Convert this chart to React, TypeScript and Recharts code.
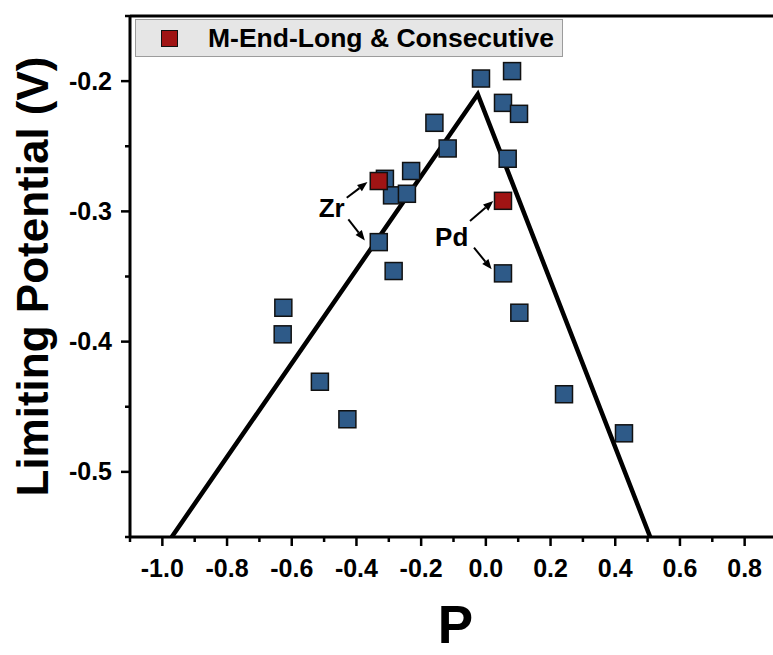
import React from 'react';
import {
  ScatterChart, Scatter, XAxis, YAxis, ReferenceLine, ReferenceDot, Legend
} from 'recharts';

// P values / limiting potentials
const blueP = [
  -0.015, 0.081, 0.053, 0.1025, -0.159, -0.118, 0.0675, -0.231, -0.312, -0.29, -0.244,
  -0.331, -0.285, 0.053, 0.1035, -0.626, -0.628, -0.513, -0.428, 0.2416, 0.427
];
const blueU = [
  -0.198, -0.1923, -0.2167, -0.2251, -0.232, -0.2517, -0.2596, -0.269, -0.275, -0.2877, -0.2865,
  -0.3236, -0.3458, -0.3476, -0.3778, -0.374, -0.3944, -0.4308, -0.4596, -0.4404, -0.4704
];
const redP = [-0.331, 0.053];
const redU = [-0.2767, -0.2919];

// volcano line
const lineP = [-0.971, -0.025, 0.508];
const lineU = [-0.55, -0.21, -0.55];

const xTicks = [-1.1, -1.0, -0.9, -0.8, -0.7, -0.6, -0.5, -0.4, -0.3, -0.2, -0.1, 0.0, 0.1, 0.2, 0.3, 0.4, 0.5, 0.6, 0.7, 0.8, 0.9];
const xMajor = [-1.0, -0.8, -0.6, -0.4, -0.2, 0.0, 0.2, 0.4, 0.6, 0.8];
const yTicks = [-0.55, -0.5, -0.45, -0.4, -0.35, -0.3, -0.25, -0.2, -0.15];
const yMajor = [-0.5, -0.4, -0.3, -0.2];

const blueData = blueP.map((x, i) => ({ x, y: blueU[i] }));
const redData = redP.map((x, i) => ({ x, y: redU[i] }));
const lineData = lineP.map((x, i) => ({ x, y: lineU[i] }));

const FONT = '"Liberation Sans", Arial, sans-serif';

const square = (color: string) => (props: any) => {
  const { cx, cy } = props;
  return <rect x={cx - 8.5} y={cy - 8.5} width={17} height={17} fill={color} stroke="#111" strokeWidth={1.5} />;
};

const isIn = (list: number[], v: number) => list.some((m) => Math.abs(m - v) < 1e-6);

const XTick = (props: any) => {
  const { x, y, payload } = props;
  const major = isIn(xMajor, payload.value);
  return (
    <g>
      <line x1={x} y1={y} x2={x} y2={y + (major ? 9 : 5)} stroke="#000" strokeWidth={2.5} />
      {major && (
        <text x={x} y={y + 40} textAnchor="middle" fontFamily={FONT} fontWeight="bold" fontSize={25} fill="#000">
          {payload.value.toFixed(1)}
        </text>
      )}
    </g>
  );
};

const YTick = (props: any) => {
  const { x, y, payload } = props;
  const major = isIn(yMajor, payload.value);
  return (
    <g>
      <line x1={x} y1={y} x2={x - (major ? 9 : 5)} y2={y} stroke="#000" strokeWidth={2.5} />
      {major && (
        <text x={x - 18} y={y + 8.5} textAnchor="end" fontFamily={FONT} fontWeight="bold" fontSize={25} fill="#000">
          {payload.value.toFixed(1)}
        </text>
      )}
    </g>
  );
};

const XLabel = (props: any) => {
  const { viewBox } = props;
  const cx = viewBox.x + viewBox.width / 2;
  return (
    <text x={cx + 2} y={643} textAnchor="middle" fontFamily={FONT} fontWeight="bold" fontSize={53} fill="#000">P</text>
  );
};

const YLabel = (props: any) => {
  const { viewBox } = props;
  const cy = viewBox.y + viewBox.height / 2;
  const bx = 48;
  return (
    <text x={bx} y={cy} transform={`rotate(-90 ${bx} ${cy})`} textAnchor="middle"
      fontFamily={FONT} fontWeight="bold" fontSize={44} fill="#000">
      Limiting Potential (V)
    </text>
  );
};

const Arrow = (props: any) => {
  const { x1, y1, x2, y2 } = props;
  const dx = x2 - x1;
  const dy = y2 - y1;
  const len = Math.hypot(dx, dy) || 1;
  const ux = dx / len;
  const uy = dy / len;
  const hl = 10;
  const hw = 4;
  const bx = x2 - ux * hl;
  const by = y2 - uy * hl;
  return (
    <g>
      <line x1={x1} y1={y1} x2={bx} y2={by} stroke="#000" strokeWidth={2} />
      <polygon points={`${x2},${y2} ${bx - uy * hw},${by + ux * hw} ${bx + uy * hw},${by - ux * hw}`} fill="#000" />
    </g>
  );
};

const LegendBox = (props: any) => {
  const item = (props.payload || [])[0];
  return (
    <div style={{
      width: 428, height: 38, boxSizing: 'border-box', background: '#e6e6e6',
      border: '1px solid #9c9c9c', display: 'flex', alignItems: 'center'
    }}>
      <span style={{
        display: 'inline-block', width: 17, height: 17, boxSizing: 'border-box', marginLeft: 25,
        background: '#a01414', border: '1.5px solid #111'
      }} />
      <span style={{ marginLeft: 30, fontFamily: FONT, fontWeight: 'bold', fontSize: 26.5, color: '#000', whiteSpace: 'nowrap' }}>
        {item ? item.value : ''}
      </span>
    </div>
  );
};

const App: React.FC = () => {
  return (
    <div style={{ position: 'fixed', left: 0, top: 0, width: 773, height: 655, overflow: 'hidden', background: '#fff' }}>
      <ScatterChart width={790} height={655} margin={{ top: 16, right: 13, left: 0, bottom: 0 }}>
        <XAxis
          type="number" dataKey="x" domain={[-1.1, 0.9]} ticks={xTicks} interval={0}
          allowDataOverflow height={118} tickSize={0} tickMargin={0} tickLine={false}
          axisLine={{ stroke: '#000', strokeWidth: 3 }} tick={<XTick />}
          label={<XLabel />}
        />
        <YAxis
          type="number" dataKey="y" domain={[-0.55, -0.15]} ticks={yTicks} interval={0}
          allowDataOverflow width={130} tickSize={0} tickMargin={0} tickLine={false}
          axisLine={{ stroke: '#000', strokeWidth: 3 }} tick={<YTick />}
          label={<YLabel />}
        />
        <ReferenceLine y={-0.15} stroke="#000" strokeWidth={3} />
        <ReferenceLine x={0.9} stroke="#000" strokeWidth={3} />
        <Scatter
          name="line" data={lineData} line={{ stroke: '#000', strokeWidth: 4.5 }}
          shape={() => <g />} legendType="none" isAnimationActive={false}
        />
        <Scatter name="Other" data={blueData} fill="#2e5a88" shape={square('#2e5a88')} legendType="none" isAnimationActive={false} />
        <Scatter name="M-End-Long & Consecutive" data={redData} fill="#a01414" shape={square('#a01414')} legendType="square" isAnimationActive={false} />
        <ReferenceLine segment={[{ x: -0.43, y: -0.2896 }, { x: -0.366, y: -0.2775 }]} shape={Arrow} />
        <ReferenceLine segment={[{ x: -0.425, y: -0.3061 }, { x: -0.374, y: -0.3223 }]} shape={Arrow} />
        <ReferenceLine segment={[{ x: -0.049, y: -0.3074 }, { x: 0.023, y: -0.2921 }]} shape={Arrow} />
        <ReferenceLine segment={[{ x: -0.0366, y: -0.3279 }, { x: 0.018, y: -0.3445 }]} shape={Arrow} />
        <ReferenceDot x={-0.4765} y={-0.2972} r={0} fill="none" stroke="none"
          label={{ value: 'Zr', position: 'center', fontFamily: FONT, fontWeight: 'bold', fontSize: 26, fill: '#000' }} />
        <ReferenceDot x={-0.1056} y={-0.3195} r={0} fill="none" stroke="none"
          label={{ value: 'Pd', position: 'center', fontFamily: FONT, fontWeight: 'bold', fontSize: 26, fill: '#000' }} />
        <Legend
          layout="vertical" align="center" verticalAlign="middle"
          wrapperStyle={{ left: 135, top: 19, width: 428, height: 38 }}
          content={<LegendBox />}
        />
      </ScatterChart>
    </div>
  );
};

export default App;
